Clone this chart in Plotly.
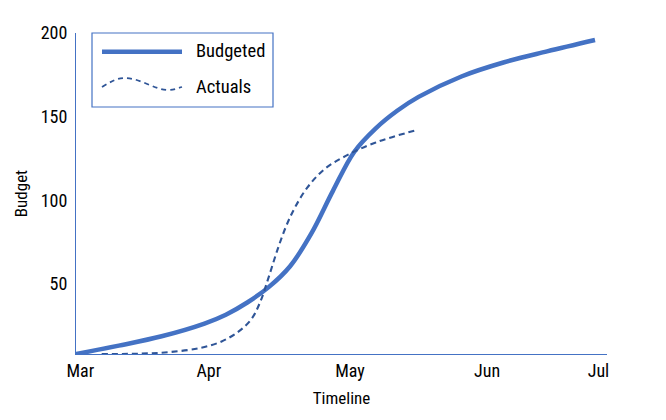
import plotly.graph_objects as go

# ---- data ----
budget_day = [0, 10, 20, 30, 35, 40, 45, 50, 55, 60, 65, 70, 75, 80, 90, 100, 110, 121.2]
budget_val = [8, 13.0, 18.6, 26.2, 31.5, 38.8, 48.0, 60.5, 80.3, 105.6, 129.0, 143.0, 153.5, 161.8, 174.0, 182.5, 189.0, 195.8]

actual_day = [6, 15, 22, 29, 34, 38, 41, 43, 45, 47, 49, 51, 54, 58, 63, 70, 79.6]
actual_val = [8, 8.2, 9.2, 11.6, 15.5, 21.5, 29.0, 39.0, 54.0, 70.0, 84.0, 95.0, 107.5, 118.5, 126.5, 134.5, 142.0]

month_labels = ["Mar", "Apr", "May", "Jun", "Jul"]
month_ticks = [1, 31, 64, 96, 122]
budget_ticks = [50, 100, 150, 200]

SOLID = "#4472C4"
DASHED = "#2F5597"
FONT = "Roboto Condensed, Liberation Sans Narrow, sans-serif"

fig = go.Figure()
fig.add_trace(go.Scatter(x=budget_day, y=budget_val, mode="lines", name="Budgeted",
                         line=dict(color=SOLID, width=4.5, shape="spline", smoothing=1.0)))
fig.add_trace(go.Scatter(x=actual_day, y=actual_val, mode="lines", name="Actuals",
                         line=dict(color=DASHED, width=2.1, dash="6px,4px", shape="spline", smoothing=1.0)))

# page has an 8px body margin; figure is sized so it fills the 666x420 window
W, H = 658, 412
L, R, T, B = 68, 59, 25, 66
pw, ph = W - L - R, H - T - B
OFF = 8

def px(x):
    return (x - OFF - L) / pw

def py(y):
    return (H - B - (y - OFF)) / ph

shapes = [
    dict(type="rect", xref="paper", yref="paper", x0=px(92), x1=px(273), y0=py(107), y1=py(33),
         line=dict(color=SOLID, width=1.2), fillcolor="white", layer="above"),
    dict(type="line", xref="paper", yref="paper", x0=px(102), x1=px(182), y0=py(51.7), y1=py(51.7),
         line=dict(color=SOLID, width=4.5), layer="above"),
]
pts = [(102, 87), (110, 82), (117, 78), (125, 78), (140, 78), (155, 90), (168, 90), (174, 90), (178, 88), (182, 87)]
P = [f"{px(a):.5f},{py(b):.5f}" for a, b in pts]
path = f"M {P[0]} C {P[1]} {P[2]} {P[3]} C {P[4]} {P[5]} {P[6]} C {P[7]} {P[8]} {P[9]}"
shapes.append(dict(type="path", xref="paper", yref="paper", path=path,
                   line=dict(color=DASHED, width=1.8, dash="5px,4px"), layer="above"))

annotations = [
    dict(text="Budgeted", xref="paper", yref="paper", x=px(194), y=py(51), xanchor="left", yanchor="middle",
         showarrow=False, font=dict(family=FONT, size=18.5, color="black")),
    dict(text="Actuals", xref="paper", yref="paper", x=px(194), y=py(87), xanchor="left", yanchor="middle",
         showarrow=False, font=dict(family=FONT, size=18.5, color="black")),
]

fig.update_layout(
    width=W, height=H, margin=dict(l=L, r=R, t=T, b=B),
    paper_bgcolor="white", plot_bgcolor="white", showlegend=False,
    font=dict(family=FONT, size=18, color="black"),
    shapes=shapes, annotations=annotations,
    xaxis=dict(range=[0, 124], tickvals=month_ticks, ticktext=month_labels, showgrid=False, zeroline=False,
               showline=True, linecolor=SOLID, linewidth=1.2, ticks="", tickfont=dict(size=18),
               title=dict(text="Timeline", font=dict(size=17), standoff=12)),
    yaxis=dict(range=[8, 200], tickvals=budget_ticks, showgrid=False, zeroline=False,
               showline=True, linecolor=SOLID, linewidth=1.2, ticks="", tickfont=dict(size=18),
               ticklabelstandoff=4,
               title=dict(text="Budget", font=dict(size=17), standoff=8)),
)

fig.write_html("out.html")
